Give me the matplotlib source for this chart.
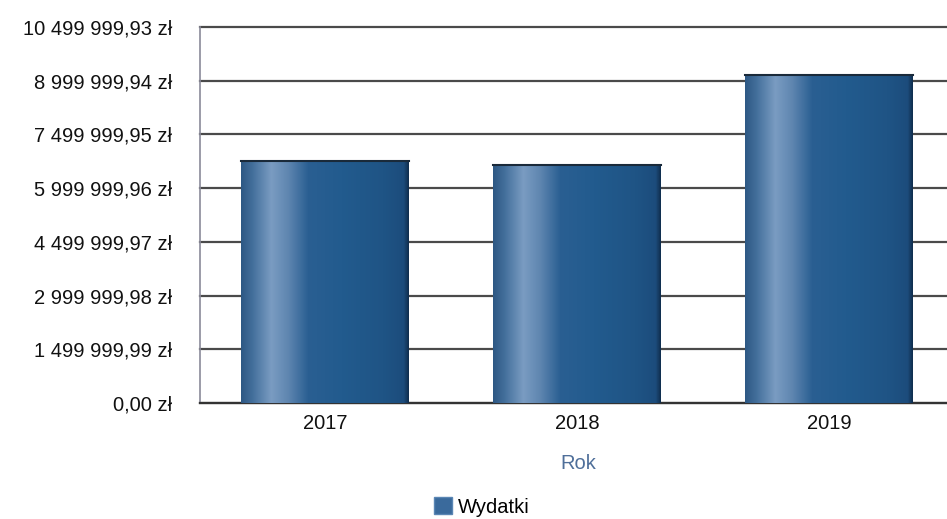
import matplotlib.pyplot as plt
import numpy as np
from matplotlib.colors import LinearSegmentedColormap
from matplotlib.patches import Patch

years = ["2017", "2018", "2019"]
wydatki = [6750000, 6660000, 9170000]
ticks = [0.00, 1499999.99, 2999999.98, 4499999.97, 5999999.96, 7499999.95, 8999999.94, 10499999.93]


def zl(v):
    s = f"{v:,.2f}"
    return s.replace(",", " ").replace(".", ",") + " zł"


plt.rcParams['font.family'] = ['Liberation Sans', 'DejaVu Sans']

fig = plt.figure(figsize=(9.47, 5.19), dpi=100)
ax = fig.add_axes([200 / 947, 116 / 519, 756 / 947, 376 / 519])

x = np.arange(len(years))
bars = ax.bar(x, wydatki, width=0.663, color='#2a5f90', zorder=3)

# cylinder-like shading on the bars
cmap = LinearSegmentedColormap.from_list('cyl', [
    (0.0, '#2d5884'), (0.07, '#44709c'), (0.18, '#7a9cc2'), (0.28, '#5f86b0'),
    (0.4, '#2a5f92'), (0.6, '#225b8e'), (0.85, '#1f5485'), (0.97, '#1c4c7c'), (1.0, '#102e4e')])
grad = np.linspace(0, 1, 256).reshape(1, -1)
for b in bars:
    im = ax.imshow(grad, cmap=cmap, aspect='auto', zorder=4,
                   extent=[b.get_x(), b.get_x() + b.get_width(), 0, b.get_height()])
    im.set_clip_path(b)
    ax.plot([b.get_x(), b.get_x() + b.get_width()], [b.get_height()] * 2,
            color='#1a2a3a', lw=1.5, zorder=5)

ax.set_xlim(-0.496, 2.504)
ax.set_ylim(0, ticks[-1])
ax.set_yticks(ticks)
ax.set_yticklabels([zl(t) for t in ticks])
ax.set_xticks(x)
ax.set_xticklabels(years)
ax.yaxis.grid(True, color='#4a4a4a', lw=1.6, zorder=1)
for gl in ax.get_ygridlines():
    gl.set_clip_on(False)
ax.set_axisbelow(True)
ax.tick_params(axis='y', length=0, pad=20, labelsize=14.5, colors='#111111')
ax.tick_params(axis='x', length=0, pad=8, labelsize=14.5, colors='#111111')
for s in ['top', 'right']:
    ax.spines[s].set_visible(False)
ax.spines['left'].set_color('#8a8a9a')
ax.spines['left'].set_linewidth(1.2)
ax.spines['bottom'].set_color('#333333')
ax.spines['bottom'].set_linewidth(1.6)

ax.set_xlabel('Rok', color='#4f6f9a', fontsize=14.5, labelpad=15)

leg = fig.legend(handles=[Patch(facecolor='#3a6a9c', edgecolor='#5a86b4')], labels=['Wydatki'],
                 loc='center', bbox_to_anchor=(482 / 947, 1 - 507 / 519), frameon=False,
                 fontsize=14.5, handlelength=0.9, handleheight=0.9, handletextpad=0.3)

fig.savefig('out.png', dpi=100)
